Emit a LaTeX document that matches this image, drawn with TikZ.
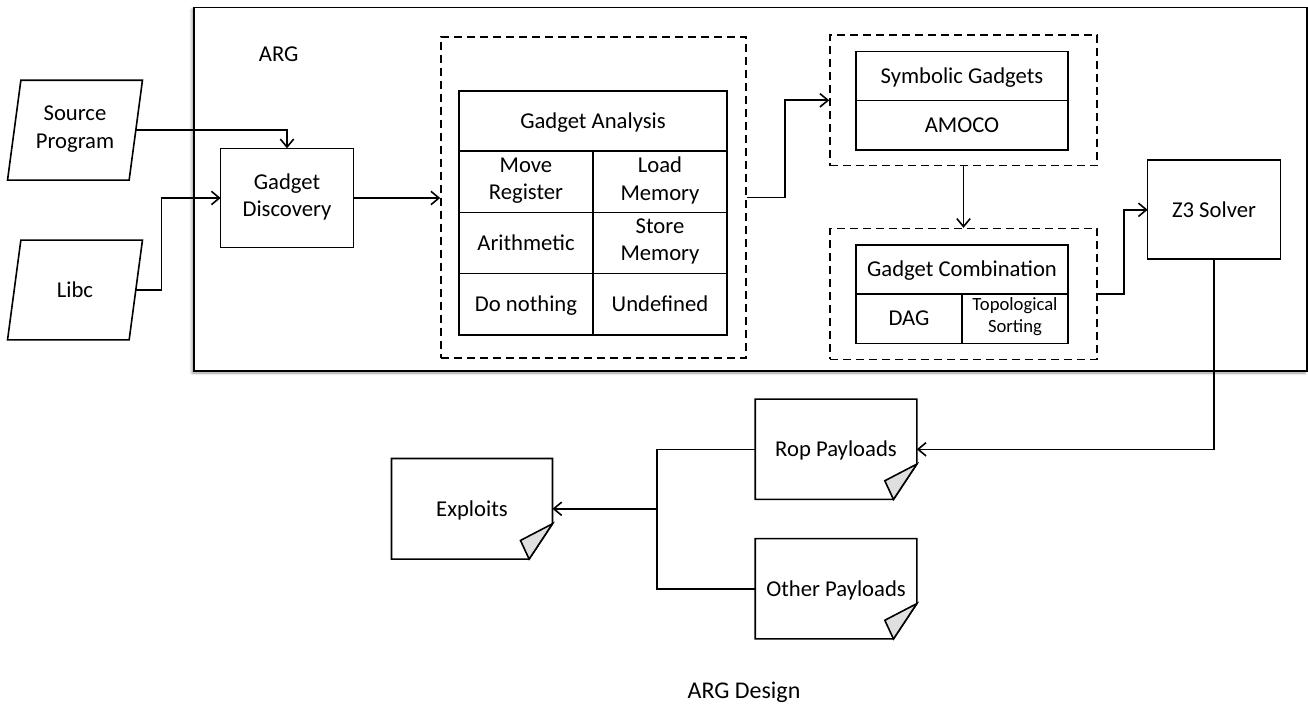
\documentclass[tikz,border=0pt]{standalone}
\usepackage{fontspec}
\setmainfont{Carlito}
\usetikzlibrary{arrows.meta,positioning,shadows.blur}
\newcommand{\cstrut}{\rule[-4.75pt]{0pt}{20.5pt}}

\begin{document}
\begin{tikzpicture}[x=0.75pt, y=-0.75pt, line width=1.2pt,
  font=\fontsize{17}{20.5}\selectfont,
  box/.style={draw, align=center, inner sep=0pt, outer sep=0pt,
    execute at begin node=\cstrut, execute at end node=\cstrut},
  cell/.style={box, minimum width=100.5pt, minimum height=46pt},
  grp/.style={draw, dash pattern=on 6pt off 3.75pt, minimum width=200.25pt, minimum height=98pt},
  io/.style={align=center, minimum width=90pt, minimum height=73.7pt, inner sep=0pt,
    execute at begin node=\cstrut, execute at end node=\cstrut},
  doc/.style={io, minimum width=120pt, minimum height=74pt},
  arr/.style={-{Straight Barb[length=6pt, width=10pt]}}]
  \useasboundingbox (0,0) rectangle (1308,705);

  % outer ARG frame
  \node[draw, fill=white, minimum width=834.75pt, minimum height=272.8pt,
    blur shadow={shadow xshift=-1.5pt, shadow yshift=-1.5pt, shadow blur radius=2pt}] (arg) at (750.5,189.2) {};
  \node[anchor=base] (argtitle) at (278.7,61.7) {ARG};

  % inputs
  \node[io] (src) at (75,130.2) {Source\\Program};
  \node[io] (libc) at (75,290) {Libc};
  \foreach \n in {src,libc}
    \draw ([xshift=-5pt]\n.south west) -- ([xshift=5pt]\n.north west) -- ([xshift=5pt]\n.north east) -- ([xshift=-5pt]\n.south east) -- cycle;

  \node[box, minimum width=99.5pt, minimum height=74.5pt] (gd) at (287,198) {Gadget\\Discovery};

  % gadget analysis table
  \node[grp, minimum width=228.75pt, minimum height=240.75pt] (anbox) at (593.5,197.5) {};
  \node[box, minimum width=201pt, minimum height=45pt] (ga) at (593,121) {Gadget Analysis};
  \node[cell, below right=0pt and 0pt of ga.south west] (mr) {Move\\Register};
  \node[cell, right=0pt of mr] (lm) {Load\\Memory};
  \node[cell, below=0pt of mr] (ar) {Arithmetic};
  \node[cell, right=0pt of ar] (sm) {Store\\Memory};
  \node[cell, below=0pt of ar] (dn) {Do nothing};
  \node[cell, right=0pt of dn] (ud) {Undefined};

  % symbolic gadgets
  \node[grp] (symbox) at (963.5,100.3) {};
  \node[box, minimum width=159pt, minimum height=36.75pt] (sg) at (962,76.2) {Symbolic Gadgets};
  \node[box, minimum width=159pt, minimum height=37pt, below=0pt of sg] (amoco) {AMOCO};

  % gadget combination
  \node[grp] (combbox) at (963.5,294) {};
  \node[box, minimum width=159pt, minimum height=36.75pt] (gc) at (962,269.5) {Gadget Combination};
  \node[box, minimum width=79.5pt, minimum height=37pt, below right=0pt and 0pt of gc.south west] (dag) {DAG};
  \node[box, minimum width=79.5pt, minimum height=37pt, right=0pt of dag, font=\fontsize{14}{16.5}\selectfont] (topo) {Topological\\Sorting};

  \node[box, minimum width=99.5pt, minimum height=74.25pt] (z3) at (1214,209.8) {Z3 Solver};

  % payload documents
  \node[doc] (rop) at (836,449.3) {Rop Payloads};
  \node[doc] (oth) at (836,588.8) {Other Payloads};
  \node[doc, minimum width=119.5pt, minimum height=74.25pt] (exp) at (472,508.8) {Exploits};
  \foreach \n in {rop,oth,exp} {
    \draw (\n.north west) -- (\n.north east) -- ([yshift=26.5pt]\n.south east) -- ([xshift=-17.5pt]\n.south east) -- (\n.south west) -- cycle;
    \draw[fill=gray!25] ([yshift=26.5pt]\n.south east) -- ([xshift=-24pt,yshift=14pt]\n.south east) -- ([xshift=-17.5pt]\n.south east) -- cycle;
  }

  \node[anchor=base, font=\fontsize{18}{21}\selectfont] (cap) at (744,698.3) {ARG Design};

  % connectors
  \draw[arr] (src.east) -| (gd.north);
  \draw[arr] (libc.east) -- ++(25.7,0) |- (gd.west);
  \draw[arr] (gd.east) -- (gd.east -| anbox.west);
  \draw[arr] (anbox.east) -- ++(38,0) |- (symbox.west);
  \draw[arr] (symbox.south) -- (combbox.north);
  \draw[arr] (combbox.east) -- ++(26,0) |- (z3.west);
  \draw[arr] (z3.south) |- (rop.east);
  \coordinate (jn) at (657,508.8);
  \draw (rop.west) -| (jn);
  \draw (oth.west) -| (jn);
  \draw[arr] (jn) -- (exp.east);
\end{tikzpicture}
\end{document}
